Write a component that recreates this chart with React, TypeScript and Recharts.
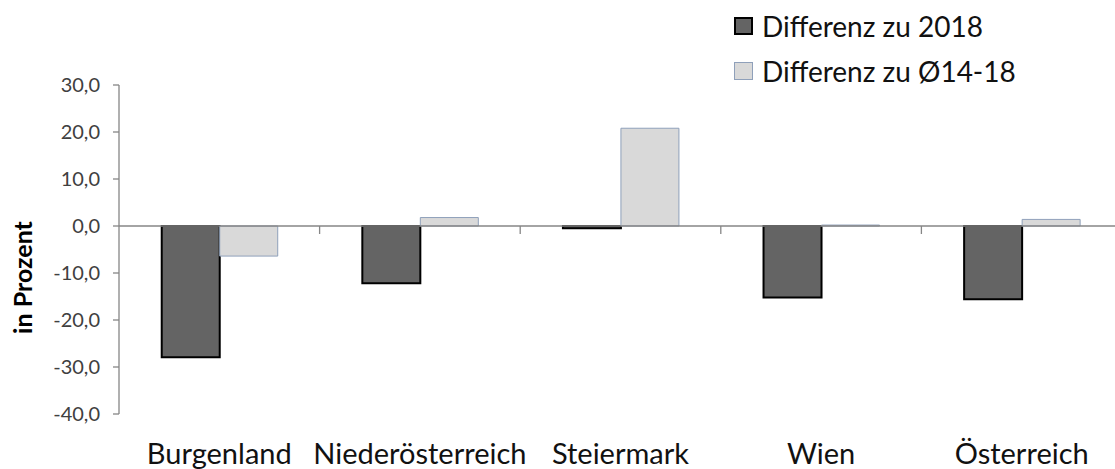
import React from 'react';
import { BarChart, Bar, XAxis, YAxis, ReferenceLine, Legend, Label } from 'recharts';

const categories = ['Burgenland', 'Niederösterreich', 'Steiermark', 'Wien', 'Österreich'];
const diff2018 = [-27.9, -12.2, -0.5, -15.2, -15.6];
const diffAvg = [-6.4, 1.8, 20.8, 0.2, 1.4];
const yTicks = [30, 20, 10, 0, -10, -20, -30, -40];
const seriesNames = ['Differenz zu 2018', 'Differenz zu Ø14-18'];

const data = categories.map((name, i) => ({ name, idx: i, d2018: diff2018[i], dAvg: diffAvg[i] }));
// category boundaries (between neighbouring categories), in index units
const boundaries = categories.slice(1).map((_, i) => i + 0.5);

const FONT = 'Lato, "Open Sans", sans-serif';
const DARK = '#646464';
const LIGHT = '#d9d9d9';
const LIGHT_STROKE = '#8fa0ba';
const AXIS = '#868686';

const legendItems = [
  { name: seriesNames[0], fill: DARK, stroke: '#000', sw: 2 },
  { name: seriesNames[1], fill: LIGHT, stroke: LIGHT_STROKE, sw: 1 },
];

const LegendContent = () => (
  <div style={{ fontFamily: FONT }}>
    {legendItems.map((it) => (
      <div key={it.name} style={{ display: 'flex', alignItems: 'center', height: 44.5 }}>
        <div
          style={{
            width: 19,
            height: 18,
            boxSizing: 'border-box',
            background: it.fill,
            border: `${it.sw}px solid ${it.stroke}`,
            marginRight: 9,
          }}
        />
        <span style={{ fontSize: 28, color: '#111', whiteSpace: 'nowrap' }}>{it.name}</span>
      </div>
    ))}
  </div>
);

const fmt = (v: number) => v.toFixed(1).replace('.', ',');

const YTitle = (props: any) => {
  const vb = props.viewBox || { x: 0, y: 0, width: 0, height: 0 };
  const cx = vb.x + 22;
  const cy = vb.y + vb.height / 2 + 28;
  return (
    <text
      x={cx}
      y={cy}
      transform={`rotate(-90, ${cx}, ${cy})`}
      textAnchor="middle"
      dominantBaseline="central"
      style={{ fontFamily: FONT, fontSize: 25, fontWeight: 700, fill: '#000' }}
    >
      in Prozent
    </text>
  );
};

export default function App() {
  return (
    <div
      style={{
        position: 'absolute',
        left: 0,
        top: 0,
        width: 1115,
        height: 469,
        overflow: 'hidden',
        background: '#fff',
      }}
    >
      <BarChart
        width={1122}
        height={469}
        data={data}
        margin={{ top: 85, right: 0, bottom: 0, left: 0 }}
        barCategoryGap="21.3%"
        barGap={0}
      >
        <XAxis
          dataKey="name"
          axisLine={false}
          tickLine={false}
          height={55}
          tickMargin={23}
          interval={0}
          tick={{ fontFamily: FONT, fontSize: 29, fill: '#111' }}
        />
        <XAxis
          xAxisId="grid"
          dataKey="idx"
          type="number"
          domain={[-0.5, categories.length - 0.5]}
          hide
          allowDataOverflow
        />
        <YAxis
          width={119}
          domain={[-40, 30]}
          ticks={yTicks}
          interval={0}
          tickFormatter={fmt}
          tickSize={6}
          tickMargin={13}
          axisLine={{ stroke: AXIS, strokeWidth: 1.3 }}
          tickLine={{ stroke: AXIS, strokeWidth: 1.3 }}
          tick={{ fontFamily: FONT, fontSize: 20, fill: '#404040' }}
          allowDataOverflow
        >
          <Label content={<YTitle />} position="insideLeft" />
        </YAxis>
        <Legend
          layout="vertical"
          align="center"
          verticalAlign="middle"
          content={<LegendContent />}
          wrapperStyle={{ position: 'absolute', left: 734, top: 4, width: 340, height: 90 }}
        />
        <Bar
          dataKey="d2018"
          name={seriesNames[0]}
          fill={DARK}
          stroke="#000"
          strokeWidth={2}
          isAnimationActive={false}
        />
        <Bar
          dataKey="dAvg"
          name={seriesNames[1]}
          fill={LIGHT}
          stroke={LIGHT_STROKE}
          strokeWidth={1}
          isAnimationActive={false}
        />
        <ReferenceLine y={0} stroke={AXIS} strokeWidth={1.3} />
        {boundaries.map((b) => (
          <ReferenceLine
            key={b}
            xAxisId="grid"
            segment={[
              { x: b, y: 0 },
              { x: b, y: -1.7 },
            ]}
            stroke={AXIS}
            strokeWidth={1.3}
          />
        ))}
      </BarChart>
    </div>
  );
}
